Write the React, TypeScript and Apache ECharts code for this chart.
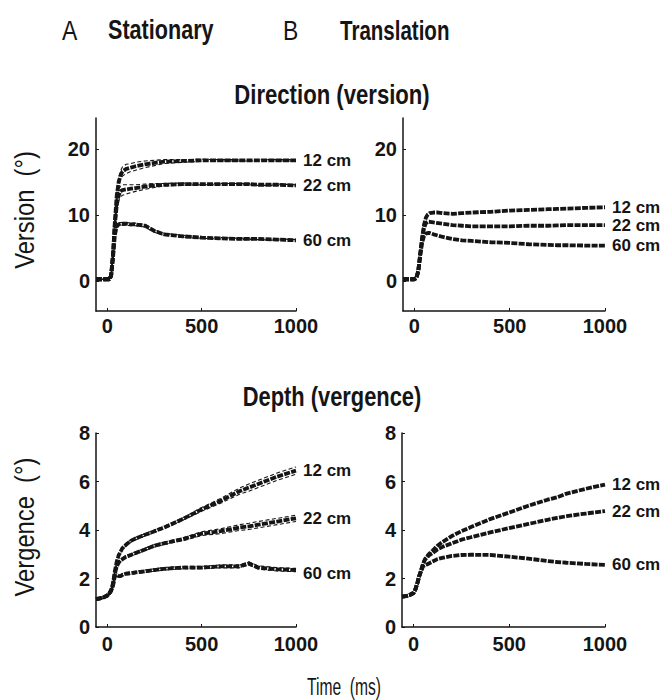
import React, { useEffect, useRef } from "react";
import * as echarts from "echarts";

const FONT = "'Liberation Sans', Arial, Helvetica, sans-serif";

// time (ms)
const T = [-60, -40, -20, 0, 10, 20, 30, 40, 50, 60, 70, 80, 100, 125, 150, 200, 250, 300, 400, 500, 600, 700, 750, 800, 900, 1000];

const conditions = ["12 cm", "22 cm", "60 cm"];

// A: Stationary, version (deg)
const statVer12 = [0.3, 0.3, 0.3, 0.3, 0.3, 0.8, 4, 9, 13, 15, 16, 16.6, 17.0, 17.2, 17.4, 17.7, 17.9, 18.1, 18.2, 18.3, 18.3, 18.3, 18.3, 18.3, 18.3, 18.3];
const statVer22 = [0.3, 0.3, 0.3, 0.3, 0.3, 0.8, 4, 8.5, 11.5, 13.0, 13.6, 13.8, 13.9, 14.0, 14.1, 14.3, 14.5, 14.6, 14.7, 14.7, 14.7, 14.7, 14.7, 14.6, 14.6, 14.5];
const statVer60 = [0.3, 0.3, 0.3, 0.3, 0.3, 0.8, 3.5, 7, 8.3, 8.6, 8.7, 8.7, 8.7, 8.6, 8.6, 8.4, 7.6, 7.1, 6.8, 6.6, 6.5, 6.4, 6.4, 6.4, 6.3, 6.2];
const statVer12se = [0, 0, 0, 0, 0, 0.1, 0.3, 0.5, 0.6, 0.7, 0.7, 0.7, 0.7, 0.6, 0.6, 0.5, 0.4, 0.3, 0.2, 0.15, 0.1, 0.1, 0.1, 0.1, 0.1, 0.1];
const statVer22se = [0, 0, 0, 0, 0, 0.1, 0.3, 0.5, 0.7, 0.8, 0.8, 0.8, 0.7, 0.6, 0.5, 0.4, 0.3, 0.2, 0.15, 0.1, 0.1, 0.1, 0.1, 0.1, 0.1, 0.1];
const statVer60se = [0, 0, 0, 0, 0, 0.1, 0.2, 0.2, 0.2, 0.2, 0.2, 0.2, 0.2, 0.2, 0.2, 0.2, 0.2, 0.15, 0.15, 0.1, 0.1, 0.1, 0.1, 0.1, 0.1, 0.1];

// B: Translation, version (deg)
const transVer12 = [0.3, 0.3, 0.3, 0.3, 0.5, 1.5, 4, 6.5, 8.5, 9.6, 10.1, 10.3, 10.4, 10.4, 10.3, 10.2, 10.3, 10.4, 10.5, 10.7, 10.8, 10.9, 10.95, 11.0, 11.1, 11.2];
const transVer22 = [0.3, 0.3, 0.3, 0.3, 0.5, 1.5, 4, 6.3, 8.0, 8.8, 9.0, 9.0, 8.9, 8.8, 8.7, 8.5, 8.4, 8.3, 8.3, 8.3, 8.4, 8.4, 8.45, 8.5, 8.5, 8.5];
const transVer60 = [0.3, 0.3, 0.3, 0.3, 0.5, 1.5, 3.8, 5.8, 6.8, 7.2, 7.3, 7.3, 7.1, 6.9, 6.7, 6.4, 6.2, 6.1, 5.9, 5.8, 5.6, 5.5, 5.45, 5.45, 5.4, 5.4];

// A: Stationary, vergence (deg)
const statVerg12 = [1.15, 1.18, 1.22, 1.3, 1.38, 1.5, 1.8, 2.3, 2.7, 2.95, 3.1, 3.25, 3.4, 3.55, 3.65, 3.8, 3.95, 4.1, 4.45, 4.85, 5.2, 5.6, 5.75, 5.9, 6.2, 6.45];
const statVerg22 = [1.15, 1.18, 1.22, 1.3, 1.38, 1.5, 1.75, 2.2, 2.5, 2.65, 2.75, 2.8, 2.9, 2.97, 3.05, 3.2, 3.35, 3.45, 3.62, 3.85, 3.95, 4.1, 4.15, 4.22, 4.35, 4.48];
const statVerg60 = [1.15, 1.18, 1.22, 1.3, 1.38, 1.5, 1.7, 2.1, 2.15, 2.1, 2.1, 2.15, 2.2, 2.22, 2.25, 2.3, 2.35, 2.4, 2.45, 2.45, 2.5, 2.5, 2.62, 2.45, 2.38, 2.35];
const statVerg12se = [0.03, 0.03, 0.03, 0.03, 0.03, 0.05, 0.05, 0.05, 0.05, 0.05, 0.05, 0.05, 0.05, 0.05, 0.05, 0.05, 0.05, 0.05, 0.05, 0.08, 0.1, 0.13, 0.15, 0.15, 0.15, 0.15];
const statVerg22se = [0.03, 0.03, 0.03, 0.03, 0.03, 0.05, 0.05, 0.05, 0.05, 0.05, 0.05, 0.05, 0.05, 0.05, 0.05, 0.05, 0.05, 0.05, 0.06, 0.08, 0.1, 0.12, 0.13, 0.13, 0.13, 0.13];
const statVerg60se = [0.03, 0.03, 0.03, 0.03, 0.03, 0.05, 0.05, 0.05, 0.05, 0.05, 0.05, 0.05, 0.05, 0.05, 0.05, 0.05, 0.05, 0.05, 0.05, 0.05, 0.06, 0.06, 0.07, 0.07, 0.07, 0.07];

// B: Translation, vergence (deg)
const transVerg12 = [1.25, 1.27, 1.32, 1.4, 1.55, 1.8, 2.1, 2.35, 2.6, 2.8, 2.9, 3.0, 3.15, 3.35, 3.5, 3.75, 3.95, 4.12, 4.45, 4.72, 5.0, 5.25, 5.35, 5.5, 5.7, 5.87];
const transVerg22 = [1.25, 1.27, 1.32, 1.4, 1.55, 1.8, 2.1, 2.35, 2.6, 2.78, 2.85, 2.95, 3.05, 3.2, 3.3, 3.45, 3.6, 3.7, 3.9, 4.08, 4.25, 4.42, 4.5, 4.57, 4.68, 4.78];
const transVerg60 = [1.25, 1.27, 1.32, 1.4, 1.55, 1.8, 2.1, 2.3, 2.5, 2.55, 2.58, 2.62, 2.7, 2.8, 2.85, 2.93, 2.97, 2.98, 2.97, 2.9, 2.82, 2.72, 2.68, 2.65, 2.6, 2.56];

const xTicks = [0, 500, 1000];
const versionTicks = [0, 10, 20];
const vergenceTicks = [0, 2, 4, 6, 8];

const INK = "#151515";

function pairs(vals: number[], se?: number[], sign = 0) {
  return T.map((t, i) => [t, se ? vals[i] + sign * se[i] : vals[i]]);
}

export default function App() {
  const ref = useRef<HTMLDivElement>(null);

  useEffect(() => {
    if (!ref.current) return;
    const chart = echarts.init(ref.current, null, { renderer: "svg" });

    const grids = [
      { left: 96, top: 118, width: 200, height: 193 },
      { left: 403, top: 118, width: 202, height: 193 },
      { left: 96, top: 433, width: 200, height: 194 },
      { left: 402, top: 433, width: 203, height: 194 },
    ];

    const xAxes = grids.map((_, i) => ({
      type: "value",
      gridIndex: i,
      min: -60,
      max: 1000,
      axisLine: { show: true, onZero: false, lineStyle: { color: INK, width: 1.5 } },
      axisTick: { show: true, inside: true, length: 3, customValues: xTicks, lineStyle: { color: INK } },
      axisLabel: {
        customValues: xTicks,
        formatter: (v: number) => String(v),
        fontSize: 20,
        fontWeight: "bold",
        color: INK,
        fontFamily: FONT,
        margin: i < 2 ? 5 : 7,
      },
      splitLine: { show: false },
    }));

    const yAxes = grids.map((_, i) => {
      const top = i < 2;
      return {
        type: "value",
        gridIndex: i,
        min: top ? -4.5 : 0,
        max: top ? 24.7 : 8,
        axisLine: { show: true, onZero: false, lineStyle: { color: INK, width: 1.5 } },
        axisTick: {
          show: true,
          inside: true,
          length: 3,
          customValues: top ? versionTicks : vergenceTicks,
          lineStyle: { color: INK },
        },
        axisLabel: {
          customValues: top ? versionTicks : vergenceTicks,
          formatter: (v: number) => String(v),
          fontSize: 20,
          fontWeight: "bold",
          color: INK,
          fontFamily: FONT,
          margin: 6,
        },
        splitLine: { show: false },
      };
    });

    const panels = [
      { means: [statVer12, statVer22, statVer60], ses: [statVer12se, statVer22se, statVer60se], offs: [0, 0, 0] },
      { means: [transVer12, transVer22, transVer60], ses: null, offs: [0, 0, 0] },
      { means: [statVerg12, statVerg22, statVerg60], ses: [statVerg12se, statVerg22se, statVerg60se], offs: [0, 0, 3] },
      { means: [transVerg12, transVerg22, transVerg60], ses: null, offs: [0, 0, 0] },
    ];

    const series: any[] = [];
    panels.forEach((p, gi) => {
      p.means.forEach((m, ci) => {
        if (p.ses) {
          [1, -1].forEach((sign) => {
            series.push({
              type: "line",
              name: conditions[ci] + (sign > 0 ? " upper" : " lower"),
              xAxisIndex: gi,
              yAxisIndex: gi,
              data: pairs(m, p.ses![ci], sign),
              showSymbol: false,
              symbol: "none",
              silent: true,
              lineStyle: { color: INK, width: 1.1, type: [4, 2.5] },
              z: 2,
            });
          });
        }
        series.push({
          type: "line",
          name: conditions[ci],
          xAxisIndex: gi,
          yAxisIndex: gi,
          data: pairs(m),
          showSymbol: false,
          symbol: "none",
          silent: true,
          lineStyle: { color: INK, width: 3.8, type: [6, 1.3] },
          z: 3,
          endLabel: {
            show: true,
            formatter: conditions[ci],
            distance: 7,
            offset: [0, p.offs[ci]],
            color: INK,
            fontSize: 17,
            fontWeight: "bold",
            fontFamily: FONT,
          },
        });
      });
    });

    const txt = (text: string, x: number, y: number, opts: any = {}) => ({
      type: "text",
      x,
      y,
      rotation: opts.rotation || 0,
      scaleX: opts.scaleX || 1,
      style: {
        text,
        fill: INK,
        fontFamily: FONT,
        fontSize: opts.fontSize || 27,
        fontWeight: opts.fontWeight || "bold",
        align: opts.align || "left",
        verticalAlign: "middle",
      },
    });

    chart.setOption({
      animation: false,
      backgroundColor: "#ffffff",
      grid: grids,
      xAxis: xAxes,
      yAxis: yAxes,
      series,
      graphic: [
        txt("A", 62, 30, { fontWeight: "normal", fontSize: 28, scaleX: 0.82 }),
        txt("Stationary", 108, 30, { fontSize: 27, scaleX: 0.8 }),
        txt("B", 283, 30, { fontWeight: "normal", fontSize: 28, scaleX: 0.82 }),
        txt("Translation", 340, 30, { fontSize: 27, scaleX: 0.76 }),
        txt("Direction (version)", 332, 95, { align: "center", fontSize: 27, scaleX: 0.82 }),
        txt("Depth (vergence)", 332, 397, { align: "center", fontSize: 27, scaleX: 0.81 }),
        txt("Version  (°)", 24, 210, { align: "center", rotation: Math.PI / 2, fontWeight: "normal", fontSize: 27, scaleX: 0.88 }),
        txt("Vergence  (°)", 24, 527, { align: "center", rotation: Math.PI / 2, fontWeight: "normal", fontSize: 27, scaleX: 0.88 }),
        txt("Time  (ms)", 344, 687, { align: "center", fontWeight: "normal", fontSize: 23, scaleX: 0.68 }),
      ],
    });

    return () => chart.dispose();
  }, []);

  return (
    <div
      ref={ref}
      style={{ position: "absolute", left: 0, top: 0, width: 666, height: 700, background: "#fff" }}
    />
  );
}
